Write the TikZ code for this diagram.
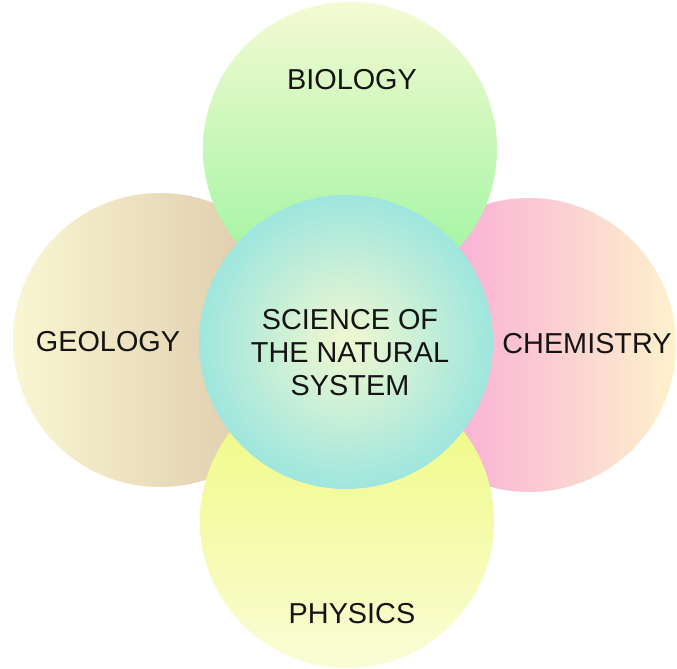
\documentclass[tikz,border=0pt]{standalone}
\usepackage{fontspec}
\setmainfont{Liberation Sans}
\usetikzlibrary{shapes, positioning, shadings}
\usepackage{xcolor}

\definecolor{bioTop}{HTML}{F4FAD2}
\definecolor{bioMid}{HTML}{C8F8B4}
\definecolor{bioBot}{HTML}{98F49E}
\definecolor{geoLeft}{HTML}{FAF6D2}
\definecolor{geoRight}{HTML}{D9C4A4}
\definecolor{chemLeft}{HTML}{F89CDA}
\definecolor{chemRight}{HTML}{FDF2CC}
\definecolor{physTop}{HTML}{EEFA7A}
\definecolor{physMid}{HTML}{F0FA8C}
\definecolor{physBot}{HTML}{FAFCD6}
\definecolor{coreIn}{HTML}{F2F8D0}
\definecolor{coreOut}{HTML}{9EE6DE}
\definecolor{ink}{HTML}{141414}

\tikzset{
  disc/.style={circle, minimum size=294*0.025cm, inner sep=0pt},
  subject/.style={text=ink, font=\fontsize{20.5}{24}\selectfont, align=center}
}

\begin{document}
\begin{tikzpicture}[x=0.025cm, y=-0.025cm]
  \useasboundingbox (0,0) rectangle (677,669);
  \fill[white] (0,0) rectangle (677,669);

  % outer circles
  \node[disc, shading=axis, left color=geoLeft, right color=geoRight] (geo) at (160,340) {};
  \node[disc, shading=axis, left color=chemLeft, right color=chemRight] (chem) at (529,345) {};
  \node[disc, shading=axis, top color=bioTop, middle color=bioMid, bottom color=bioBot] (bio) at (350,149) {};
  \node[disc, shading=axis, top color=physTop, middle color=physMid, bottom color=physBot] (phys) at (347,521) {};

  % centre circle
  \node[disc, inner color=coreIn, outer color=coreOut] (core) at (346,342) {};

  % labels
  \node[subject] (bioText) at (352,80) {BIOLOGY};
  \node[subject] (geoText) at (108,342) {GEOLOGY};
  \node[subject] (chemText) at (587,344) {CHEMISTRY};
  \node[subject] (physText) at (352,614) {PHYSICS};
  \node[subject, font=\fontsize{20.5}{23.5}\selectfont] (coreText) at (350,353)
    {SCIENCE OF\\THE NATURAL\\SYSTEM};
\end{tikzpicture}
\end{document}
